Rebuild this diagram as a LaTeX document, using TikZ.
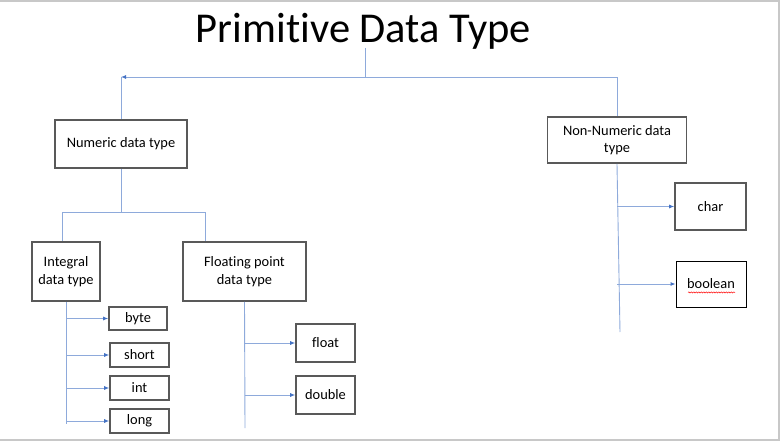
\documentclass[tikz,border=0pt]{standalone}
\usepackage{fontspec}
\setmainfont{Carlito}[Ligatures=NoCommon]
\usepackage{tikz}
\usetikzlibrary{arrows.meta,decorations.pathmorphing}
\definecolor{linkblue}{RGB}{142,170,219}
\definecolor{tipblue}{RGB}{68,114,196}
\definecolor{boxgray}{RGB}{89,89,89}
\definecolor{framegray}{RGB}{200,200,200}

\begin{document}
\begin{tikzpicture}[x=1pt, y=-1pt,
    typebox/.style={draw=boxgray, line width=1.6pt, inner sep=0pt, align=center,
      font=\fontsize{14.4}{17.5}\selectfont},
    link/.style={linkblue, line width=0.9pt},
    linkarrow/.style={link, -{Latex[length=5pt,width=4pt,color=tipblue]}}]
  % frame of the slide
  \useasboundingbox (0,0) rectangle (780,441);
  \draw[framegray, line width=2pt] (0,1) -- (779,1) -- (779,440) -- (0,440);
  \node (title) at (363.5,31) {\fontsize{42.5}{50}\selectfont Primitive Data Type};
  % boxes
  \node[typebox, minimum width=132pt, minimum height=48pt] (num) at (121,144) {Numeric data type};
  \node[typebox, minimum width=139pt, minimum height=46pt] (nonnum) at (617,140) {Non-Numeric data\\type};
  \node[typebox, minimum width=68pt, minimum height=59pt] (integ) at (66,271.5) {Integral\\data type};
  \node[typebox, minimum width=123pt, minimum height=59pt] (flt) at (244.5,271.5) {Floating point\\data type};
  \node[typebox, minimum width=58pt, minimum height=23pt] (byte) at (138,318.5) {byte};
  \node[typebox, minimum width=59pt, minimum height=24pt] (short) at (139.5,355) {short};
  \node[typebox, minimum width=59pt, minimum height=24pt] (int) at (139.5,388) {int};
  \node[typebox, minimum width=59pt, minimum height=24pt] (long) at (139.5,421) {long};
  \node[typebox, minimum width=59pt, minimum height=38pt] (float) at (325.5,343) {float};
  \node[typebox, minimum width=59pt, minimum height=38pt] (double) at (325.5,395) {double};
  \node[typebox, minimum width=71pt, minimum height=47pt] (char) at (710.5,206.5) {char};
  \node[typebox, draw=black, line width=0.9pt, minimum width=70pt, minimum height=46pt] (bool) at (711,284) {boolean};
  \draw[red, line width=0.5pt, decorate, decoration={snake, amplitude=0.6pt, segment length=2.5pt}]
    ([xshift=-23pt,yshift=-3.5pt]bool.base) -- ([xshift=24pt,yshift=-3.5pt]bool.base);
  % connectors
  \coordinate (root) at (365,48);
  \coordinate (split) at (365,77);
  \coordinate (numtop) at (121,77);
  \coordinate (nsplit) at (121,212);
  \coordinate (iend) at (66,424);
  \coordinate (fend) at (245,428);
  \coordinate (nend) at (620,332);
  \draw[link] (root) -- (split);
  \draw[linkarrow] (split) -- (numtop);
  \draw[link] (numtop) -- (num.north);
  \draw[link] (split) -| (nonnum.north);
  \draw[link] (num.south) -- (nsplit);
  \draw[link] (nsplit) -| ([xshift=-4pt]integ.north);
  \draw[link] (nsplit) -| ([xshift=-39.5pt]flt.north);
  \draw[link] (integ.south) -- (iend);
  \foreach \leaf in {byte,short,int,long}
    \draw[linkarrow] (integ.south |- \leaf.west) -- (\leaf.west);
  \draw[link] (flt.south) -- (fend);
  \foreach \leaf in {float,double}
    \draw[linkarrow] (flt.south |- \leaf.west) -- (\leaf.west);
  \draw[link] (nonnum.south) -- (nend);
  \foreach \leaf in {char,bool}
    \draw[linkarrow] (nonnum.south |- \leaf.west) -- (\leaf.west);
\end{tikzpicture}
\end{document}
